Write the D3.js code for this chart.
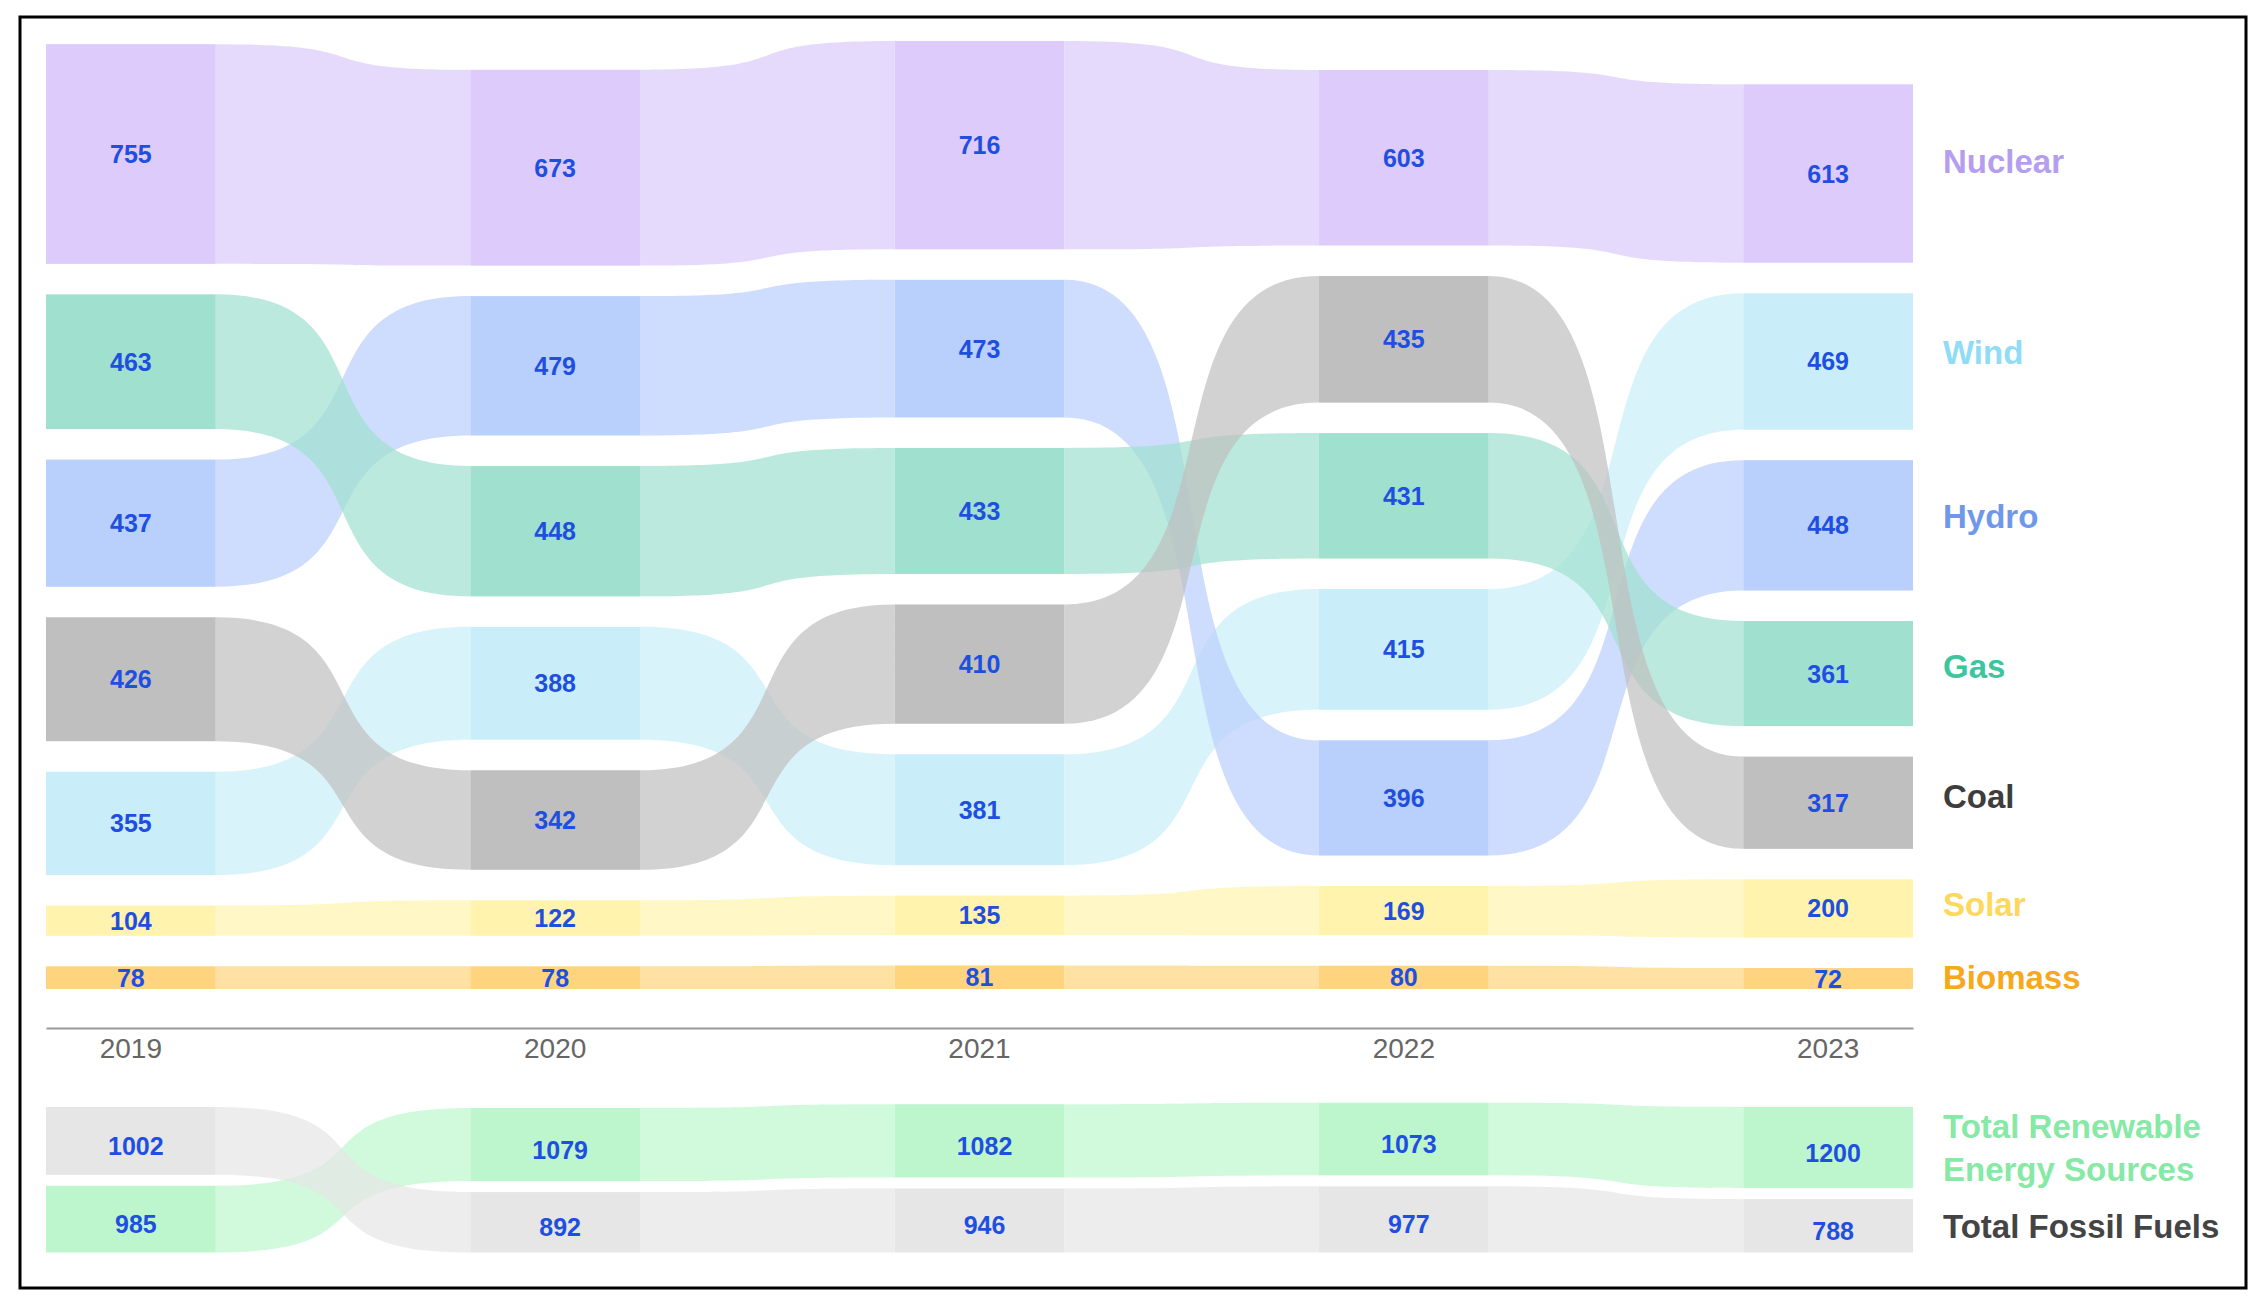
<!DOCTYPE html>
<html>
<head>
    <meta charset="utf-8">
    <title>Electricity generation by source, 2019-2023</title>
    <script src="https://cdnjs.cloudflare.com/ajax/libs/d3/7.8.5/d3.min.js"></script>
    <style>
        body {
            margin: 0;
            background: white;
            font-family: "Liberation Sans", Arial, sans-serif;
        }
        .value-label {
            font-weight: bold;
            font-size: 25px;
            fill: #1f4fe0;
        }
        .series-label {
            font-weight: bold;
            font-size: 33px;
        }
        .axis text {
            font-size: 28px;
            fill: #666;
            font-family: "Liberation Sans", Arial, sans-serif;
        }
    </style>
</head>
<body>
    <svg id="chart"></svg>

    <script>
        const years = ['2019', '2020', '2021', '2022', '2023'];

        // generation per source
        const nuclear = [755, 673, 716, 603, 613];
        const gas     = [463, 448, 433, 431, 361];
        const hydro   = [437, 479, 473, 396, 448];
        const coal    = [426, 342, 410, 435, 317];
        const wind    = [355, 388, 381, 415, 469];
        const solar   = [104, 122, 135, 169, 200];
        const biomass = [78, 78, 81, 80, 72];

        // totals
        const totalRenewable = [985, 1079, 1082, 1073, 1200];
        const totalFossil    = [1002, 892, 946, 977, 788];

        const sources = [
            { name: 'Nuclear', values: nuclear, node: '#dccbfb', text: '#b59ef0' },
            { name: 'Wind',    values: wind,    node: '#c9eefa', text: '#8fdcf7' },
            { name: 'Hydro',   values: hydro,   node: '#b9cffc', text: '#6f97ec' },
            { name: 'Gas',     values: gas,     node: '#9fe0cf', text: '#3cc6a0' },
            { name: 'Coal',    values: coal,    node: '#bfbfbf', text: '#3d3d3d' },
            { name: 'Solar',   values: solar,   node: '#fff3ad', text: '#fdd85d' },
            { name: 'Biomass', values: biomass, node: '#ffd47e', text: '#f7a81b' }
        ];

        const totals = [
            { name: 'Total Renewable\nEnergy Sources', values: totalRenewable, node: '#bdf6cd', text: '#86e9a5' },
            { name: 'Total Fossil Fuels', values: totalFossil, node: '#e6e6e6', text: '#444' }
        ];

        const width = 2255;
        const height = 1309;

        const svg = d3.select('#chart')
            .attr('width', width)
            .attr('height', height)
            .attr('viewBox', [0, 0, width, height]);

        // frame
        svg.append('rect')
            .attr('x', 20).attr('y', 17)
            .attr('width', 2226).attr('height', 1271)
            .attr('fill', 'white')
            .attr('stroke', '#000')
            .attr('stroke-width', 3);

        const x = d3.scaleBand()
            .domain(years)
            .range([46, 1913])
            .paddingInner(0.6)
            .paddingOuter(0);

        // stack each year bottom aligned, biggest on top
        function layout(series, hScale, bottom, gap) {
            const nodes = series.map(() => []);
            years.forEach((yr, i) => {
                const order = series.map((s, j) => j)
                    .sort((a, b) => series[b].values[i] - series[a].values[i]);
                const total = d3.sum(series, s => hScale(s.values[i])) + gap * (series.length - 1);
                let y = bottom - total;
                order.forEach(j => {
                    const h = hScale(series[j].values[i]);
                    nodes[j][i] = { year: yr, value: series[j].values[i], y0: y, y1: y + h };
                    y += h + gap;
                });
            });
            return nodes;
        }

        // ribbons a bit steeper than a plain sankey link
        const curv = 0.7;
        function linkPath(a, b, yrA, yrB) {
            const sx = x(yrA) + x.bandwidth();
            const tx = x(yrB);
            const c1 = sx + (tx - sx) * curv;
            const c2 = tx - (tx - sx) * curv;
            return `M${sx},${a.y0}C${c1},${a.y0} ${c2},${b.y0} ${tx},${b.y0}` +
                   `L${tx},${b.y1}C${c2},${b.y1} ${c1},${a.y1} ${sx},${a.y1}Z`;
        }

        function drawPanel(series, hScale, bottom, gap, opts) {
            const nodes = layout(series, hScale, bottom, gap);
            const g = svg.append('g');

            // links
            series.forEach((s, j) => {
                for (let i = 0; i < years.length - 1; i++) {
                    g.append('path')
                        .attr('d', linkPath(nodes[j][i], nodes[j][i + 1], years[i], years[i + 1]))
                        .attr('fill', s.node)
                        .attr('fill-opacity', 0.7);
                }
            });

            // nodes
            series.forEach((s, j) => {
                g.append('g')
                    .selectAll('rect')
                    .data(nodes[j])
                    .join('rect')
                    .attr('x', d => x(d.year))
                    .attr('y', d => d.y0)
                    .attr('width', x.bandwidth())
                    .attr('height', d => d.y1 - d.y0)
                    .attr('fill', s.node);
            });

            // values
            series.forEach((s, j) => {
                g.append('g')
                    .selectAll('text')
                    .data(nodes[j])
                    .join('text')
                    .attr('class', 'value-label')
                    .attr('x', d => x(d.year) + x.bandwidth() / 2 + opts.dx)
                    .attr('y', d => (d.y0 + d.y1) / 2 + opts.dy)
                    .attr('dy', '0.36em')
                    .attr('text-anchor', 'middle')
                    .text(d => d.value);
            });

            // series names at the right
            series.forEach((s, j) => {
                const last = nodes[j][years.length - 1];
                const lines = s.name.split('\n');
                const cy = (last.y0 + last.y1) / 2 - (last.y1 - last.y0) * opts.lift;
                const t = g.append('text')
                    .attr('class', 'series-label')
                    .attr('x', x.range()[1] + 30)
                    .attr('y', cy)
                    .attr('fill', s.text);
                lines.forEach((ln, k) => {
                    t.append('tspan')
                        .attr('x', x.range()[1] + 30)
                        .attr('dy', k === 0 ? `${0.36 - (lines.length - 1) * 0.65}em` : '1.3em')
                        .text(ln);
                });
            });
        }

        const hTop = d3.scaleLinear().domain([0, 1000]).range([0, 291]);
        const hBottom = d3.scaleLinear().domain([0, 1000]).range([0, 67.7]);

        drawPanel(sources, hTop, 989, 30.5, { dx: 0, dy: 0, lift: 0.07 });

        // year axis
        svg.append('g')
            .attr('class', 'axis')
            .attr('transform', 'translate(0,1028)')
            .call(d3.axisBottom(x).tickSize(0).tickSizeOuter(0).tickPadding(10))
            .call(g => g.select('.domain').attr('stroke', '#999').attr('stroke-width', 2));

        drawPanel(totals, hBottom, 1252.5, 11, { dx: 5, dy: 5, lift: 0 });
    </script>
</body>
</html>
